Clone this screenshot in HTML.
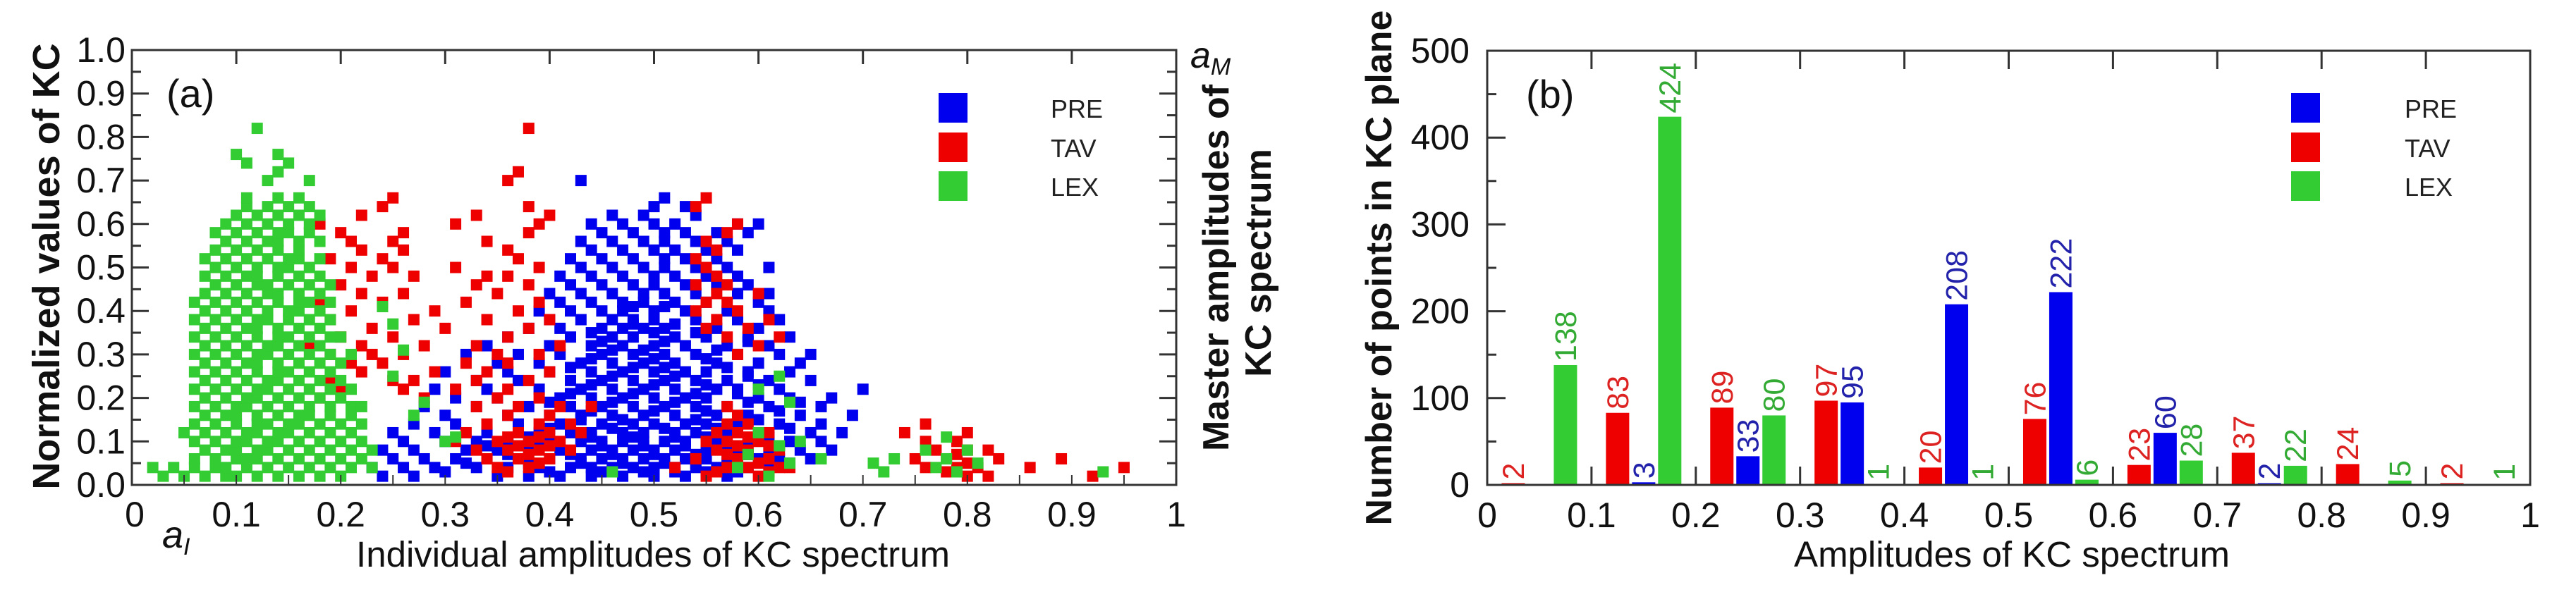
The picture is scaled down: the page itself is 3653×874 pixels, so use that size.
<!DOCTYPE html>
<html><head><meta charset="utf-8"><style>
html,body{margin:0;padding:0;background:#fff;}
svg{display:block;font-family:"Liberation Sans",Arial,sans-serif;}
</style></head><body>
<svg id="fig" width="3653" height="874" viewBox="0 0 3653 874" xmlns="http://www.w3.org/2000/svg">
<rect width="3653" height="874" fill="#fff"/>
<g id="pa"></g>
<g id="pb"></g>
</svg>
<script>
// ---------- Panel (a) scatter data: rows of [y, [x values]] ----------
const preRows = [
[0.02,[.24,.27,.35,.38,.41,.44,.47,.50,.53,.57]],
[0.03,[.30,.40,.45,.49,.52,.55,.58]],
[0.04,[.23,.26,.29,.33,.36,.39,.42,.44,.46,.48,.50,.52,.54,.56,.59,.61]],
[0.05,[.32,.38,.43,.47,.51,.54,.57,.63]],
[0.06,[.25,.28,.31,.34,.37,.40,.43,.45,.47,.49,.51,.53,.55,.57,.60,.62,.65]],
[0.07,[.36,.42,.46,.50,.54,.59]],
[0.08,[.24,.27,.32,.35,.38,.41,.44,.46,.48,.50,.52,.55,.58,.61,.64,.67]],
[0.09,[.34,.39,.45,.49,.53,.57,.62]],
[0.10,[.26,.30,.33,.36,.40,.43,.45,.47,.49,.51,.53,.56,.59,.63,.66]],
[0.11,[.38,.44,.48,.52,.55,.61]],
[0.12,[.25,.29,.34,.39,.42,.44,.47,.49,.52,.54,.57,.60,.65,.68]],
[0.13,[.40,.46,.51,.56,.63]],
[0.14,[.27,.31,.37,.41,.45,.48,.50,.53,.55,.58,.62,.66]],
[0.15,[.43,.47,.54,.60]],
[0.16,[.30,.36,.40,.43,.46,.49,.52,.56,.59,.64,.69]],
[0.17,[.44,.50,.55,.62]],
[0.18,[.28,.33,.38,.42,.45,.48,.51,.54,.57,.61,.66]],
[0.19,[.40,.46,.52,.59,.64]],
[0.20,[.31,.35,.41,.44,.47,.50,.53,.55,.60,.63,.67]],
[0.21,[.42,.48,.54,.58]],
[0.22,[.29,.34,.39,.43,.46,.49,.52,.56,.58,.62,.70]],
[0.23,[.44,.50,.55,.60]],
[0.24,[.33,.37,.42,.45,.48,.51,.54,.57,.61,.65]],
[0.25,[.46,.52,.59]],
[0.26,[.30,.36,.40,.44,.47,.50,.53,.55,.59,.63]],
[0.27,[.42,.48,.51,.57]],
[0.28,[.35,.39,.43,.46,.49,.52,.56,.60,.64]],
[0.29,[.44,.50,.55]],
[0.30,[.32,.37,.41,.45,.48,.51,.54,.58,.62,.65]],
[0.31,[.46,.49,.56]],
[0.32,[.34,.40,.44,.47,.50,.53,.57,.61]],
[0.33,[.45,.51,.59]],
[0.34,[.36,.42,.46,.48,.52,.55,.59,.63]],
[0.35,[.44,.50,.54]],
[0.36,[.38,.41,.45,.47,.49,.51,.56,.60]],
[0.37,[.48,.52]],
[0.38,[.40,.43,.46,.48,.50,.54,.58,.62]],
[0.40,[.39,.42,.45,.47,.50,.53,.57,.61]],
[0.41,[.48,.51]],
[0.42,[.41,.44,.47,.49,.52,.55,.60]],
[0.44,[.40,.43,.46,.49,.51,.54,.58,.61]],
[0.46,[.42,.45,.48,.50,.53,.56,.59]],
[0.48,[.41,.44,.47,.50,.52,.55,.58]],
[0.50,[.43,.46,.49,.51,.54,.57,.61]],
[0.52,[.42,.45,.48,.51,.53,.56]],
[0.54,[.44,.47,.50,.52,.55,.58]],
[0.56,[.43,.46,.49,.51,.54,.57]],
[0.58,[.45,.48,.51,.53,.56,.59]],
[0.60,[.44,.47,.50,.52,.58,.60]],
[0.62,[.46,.49,.54]],
[0.64,[.50,.53]],
[0.66,[.51]],
[0.70,[.43]]
];
const tavRows = [
[0.02,[.55,.60,.80,.82,.92]],
[0.03,[.36,.56,.61,.78]],
[0.04,[.35,.38,.52,.57,.59,.62,.63,.76,.79,.81,.86,.95]],
[0.05,[.39,.58,.60,.80]],
[0.06,[.34,.37,.40,.54,.58,.61,.75,.78,.83,.89]],
[0.07,[.38,.57,.59,.79]],
[0.08,[.33,.36,.39,.42,.56,.59,.62,.77,.80,.82]],
[0.09,[.37,.40,.58,.61]],
[0.10,[.31,.35,.38,.41,.55,.57,.60,.76,.79]],
[0.11,[.36,.39,.59]],
[0.12,[.32,.37,.40,.43,.56,.58,.61,.74,.80]],
[0.14,[.34,.39,.42,.57,.59,.76]],
[0.16,[.36,.40,.58]],
[0.18,[.33,.37,.41,.44,.57]],
[0.20,[.18,.28,.35,.39]],
[0.22,[.20,.26,.31,.36]],
[0.24,[.19,.25,.27,.33,.38]],
[0.26,[.22,.29,.34,.40]],
[0.28,[.21,.24,.32,.36]],
[0.30,[.19,.23,.26,.35,.39,.58]],
[0.32,[.17,.22,.28,.33,.41,.60]],
[0.34,[.20,.25,.36,.57,.62]],
[0.36,[.23,.30,.38,.55,.59]],
[0.38,[.19,.27,.34,.40,.56,.61]],
[0.40,[.21,.29,.37,.54,.58]],
[0.42,[.18,.24,.32,.39,.55,.57]],
[0.44,[.22,.26,.35,.56,.60]],
[0.46,[.20,.33,.38,.54,.57]],
[0.48,[.23,.27,.34,.36,.56]],
[0.50,[.21,.25,.31,.39,.55]],
[0.52,[.19,.24,.37,.54]],
[0.54,[.22,.26,.36,.56]],
[0.56,[.21,.25,.34,.55]],
[0.58,[.20,.26,.38,.57]],
[0.60,[.18,.31,.39,.58]],
[0.62,[.22,.33,.40]],
[0.64,[.24,.38,.54]],
[0.66,[.25,.55]],
[0.70,[.36]],
[0.72,[.37]],
[0.82,[.38]]
];
const lexRows = [
[0.02,[.03,.05,.07,.09,.10,.12,.14,.16,.18,.20]],
[0.04,[.02,.04,.06,.08,.09,.11,.13,.15,.17,.19,.21,.23]],
[0.06,[.06,.08,.10,.11,.12,.14,.16,.18,.20,.22]],
[0.08,[.07,.09,.10,.12,.13,.15,.17,.19,.21,.23]],
[0.10,[.06,.08,.10,.11,.13,.14,.16,.18,.20,.22]],
[0.12,[.05,.07,.09,.11,.12,.14,.15,.17,.19,.21]],
[0.14,[.06,.08,.10,.12,.13,.15,.16,.18,.20,.22]],
[0.16,[.07,.09,.10,.12,.14,.16,.17,.19,.21]],
[0.18,[.06,.08,.10,.11,.13,.15,.17,.19,.21,.22]],
[0.20,[.07,.09,.11,.12,.14,.16,.18,.20]],
[0.22,[.06,.08,.10,.12,.13,.15,.17,.19,.21]],
[0.24,[.07,.09,.11,.13,.14,.16,.18,.20]],
[0.26,[.06,.08,.10,.12,.14,.15,.17,.19]],
[0.28,[.07,.09,.11,.12,.14,.16,.18,.20]],
[0.30,[.06,.08,.10,.12,.13,.15,.17,.19,.21]],
[0.32,[.07,.09,.11,.13,.14,.16,.18]],
[0.34,[.06,.08,.10,.12,.14,.15,.17,.19,.20]],
[0.36,[.07,.09,.11,.12,.14,.16,.18]],
[0.38,[.06,.08,.10,.12,.13,.15,.17,.19]],
[0.40,[.07,.09,.11,.13,.15,.16,.18]],
[0.42,[.06,.08,.10,.12,.14,.16,.17,.19]],
[0.44,[.07,.09,.11,.13,.14,.16,.18]],
[0.46,[.08,.10,.12,.13,.15,.17,.19]],
[0.48,[.07,.09,.11,.12,.14,.16,.18]],
[0.50,[.08,.10,.12,.14,.15,.17]],
[0.52,[.07,.09,.11,.13,.15,.16,.18]],
[0.54,[.08,.10,.12,.14,.16]],
[0.56,[.09,.11,.13,.14,.16,.18]],
[0.58,[.08,.10,.12,.14,.15,.17]],
[0.60,[.09,.11,.13,.15,.17]],
[0.62,[.10,.12,.14,.16,.18]],
[0.64,[.11,.13,.15,.17]],
[0.66,[.11,.14,.16]],
[0.70,[.13,.17]],
[0.72,[.14]],
[0.74,[.11,.15]],
[0.76,[.10,.14]],
[0.82,[.12]]
];
const lexExtraX = [.25,.26,.24,.25,.28,.27,.30,.31,.46,.60,.62,.63,.58,.59,.61,.62,.64,.66,.63,.60,.71,.72,.73,.76,.78,.78,.79,.80,.77,.81,.93];
const lexExtraY = [.25,.31,.41,.37,.19,.16,.10,.11,.03,.22,.25,.19,.04,.07,.02,.09,.10,.06,.05,.12,.05,.03,.06,.08,.11,.06,.03,.08,.04,.05,.03];
const scatterXTicks = ["0","0.1","0.2","0.3","0.4","0.5","0.6","0.7","0.8","0.9","1"];
const scatterYTicks = ["0.0","0.1","0.2","0.3","0.4","0.5","0.6","0.7","0.8","0.9","1.0"];

// ---------- Panel (b) bar data ----------
const binStarts = [0,0.1,0.2,0.3,0.4,0.5,0.6,0.7,0.8,0.9];
const tavCounts = [2,83,89,97,20,76,23,37,24,2];
const preCounts = [0,3,33,95,208,222,60,2,0,0];
const lexCounts = [138,424,80,1,1,6,28,22,5,1];
const barXTicks = ["0","0.1","0.2","0.3","0.4","0.5","0.6","0.7","0.8","0.9","1"];
const barYTicks = [0,100,200,300,400,500];

const NS="http://www.w3.org/2000/svg";
function mk(parent,tag,attrs,text){const e=document.createElementNS(NS,tag);for(const k in attrs)e.setAttribute(k,attrs[k]);if(text!==undefined)e.textContent=text;parent.appendChild(e);return e;}
const BLUE="#0000ee",RED="#ee0000",GREEN="#33cc33",AX="#333";

// ===== Panel A =====
const A={x0:187,x1:1668,y0:688,y1:71};
const ax=v=>A.x0+v*(A.x1-A.x0), ay=v=>A.y0-v*(A.y0-A.y1);
const pa=document.getElementById('pa');
const ms=16;
function drawRows(rows,color,name){
  const g=mk(pa,'g',{});
  
  
  rows.forEach(r=>{r[1].forEach(x=>{
    const p=mk(g,'rect',{x:ax(x)-ms/2,y:ay(r[0])-ms/2,width:ms,height:ms,fill:color});
    
    
  });});
  return g;
}
drawRows(preRows,BLUE,'pre-series');
drawRows(tavRows,RED,'tav-series');
const gl=drawRows(lexRows,GREEN,'lex-series');
lexExtraX.forEach((x,i)=>{
  const p=mk(gl,'rect',{x:ax(x)-ms/2,y:ay(lexExtraY[i])-ms/2,width:ms,height:ms,fill:GREEN});
  
  
});
const fa=mk(pa,'rect',{x:A.x0,y:A.y1,width:A.x1-A.x0,height:A.y0-A.y1,fill:'none',stroke:AX,'stroke-width':3});


for(let i=0;i<=20;i++){
  const v=i/20, maj=i%2===0;
  const y=ay(v);
  mk(pa,'line',{x1:A.x0,y1:y,x2:A.x0+(maj?24:13),y2:y,stroke:AX,'stroke-width':3});
  mk(pa,'line',{x1:A.x1,y1:y,x2:A.x1-(maj?24:13),y2:y,stroke:AX,'stroke-width':3});
  const x=ax(v);
  mk(pa,'line',{x1:x,y1:A.y0,x2:x,y2:A.y0-14,stroke:AX,'stroke-width':2});
  if(maj) mk(pa,'line',{x1:x,y1:A.y1,x2:x,y2:A.y1+20,stroke:AX,'stroke-width':3});
}
scatterYTicks.forEach((t,i)=>{
  const e=mk(pa,'text',{x:178,y:ay(i/10)+17,'font-size':50,'text-anchor':'end',fill:'#111'},t);
  
  
});
scatterXTicks.forEach((t,i)=>{
  const e=mk(pa,'text',{x:ax(i/10)+(i===0?4:0),y:747,'font-size':50,'text-anchor':'middle',fill:'#111'},t);
  
  
});

// ===== Panel B =====
const B={x0:2109,x1:3588,y0:688,y1:72};
const bx=v=>B.x0+v*(B.x1-B.x0), by=v=>B.y0-v/500*(B.y0-B.y1);
const pb=document.getElementById('pb');
const bw=33;
const series=[[tavCounts,0.025,RED,'#dd2222','tav'],[preCounts,0.05,BLUE,'#2222aa','pre'],[lexCounts,0.075,GREEN,'#33aa33','lex']];
series.forEach(s=>{
  binStarts.forEach((b,i)=>{
    const v=s[0][i]; if(v<=0) return;
    const cx=bx(b+s[1]);
    const r=mk(pb,'rect',{x:cx-bw/2,y:by(v),width:bw,height:B.y0-by(v),fill:s[2]});
    
    
    const ty=by(v)-5;
    const t=mk(pb,'text',{x:cx+15,y:ty,'font-size':43,fill:s[3],transform:'rotate(-90 '+(cx+15)+' '+ty+')'},String(v));
    
    
  });
});
const fb=mk(pb,'rect',{x:B.x0,y:B.y1,width:B.x1-B.x0,height:B.y0-B.y1,fill:'none',stroke:AX,'stroke-width':3});


for(let i=0;i<=10;i++){
  const y=by(i*50), maj=i%2===0;
  mk(pb,'line',{x1:B.x0,y1:y,x2:B.x0+(maj?26:13),y2:y,stroke:AX,'stroke-width':3});
  const x=bx(i/10);
  mk(pb,'line',{x1:x,y1:B.y0,x2:x,y2:B.y0-26,stroke:AX,'stroke-width':3});
  mk(pb,'line',{x1:x,y1:B.y1,x2:x,y2:B.y1+26,stroke:AX,'stroke-width':3});
}
barYTicks.forEach(t=>{
  const e=mk(pb,'text',{x:2084,y:by(t)+17,'font-size':50,'text-anchor':'end',fill:'#111'},String(t));
  
  
});
barXTicks.forEach((t,i)=>{
  const e=mk(pb,'text',{x:bx(i/10),y:748,'font-size':50,'text-anchor':'middle',fill:'#111'},t);
  
  
});

function legend(parent,sx,tx,name){
  const g=mk(parent,'g',{});
  
  
  [['PRE',BLUE,132],['TAV',RED,188],['LEX',GREEN,243]].forEach(l=>{
    const r=mk(g,'rect',{x:sx,y:l[2],width:41,height:42,fill:l[1]});
    
    
    const t=mk(g,'text',{x:tx,y:l[2]+35,'font-size':36,fill:'#222'},l[0]);
    
    
  });
}
legend(pa,1331,1490,'legend-a');
legend(pb,3249,3410,'legend-b');
</script>
<svg style="position:absolute;left:0;top:0" width="3653" height="874" font-family="Liberation Sans, Arial, sans-serif">
<text x="236" y="152" font-size="56" fill="#111">(a)</text>
<text x="2164" y="153" font-size="56" fill="#111">(b)</text>
<text x="0" y="0" font-size="54" font-weight="bold" fill="#111" text-anchor="middle" transform="translate(84,378) rotate(-90)">Normalized values of KC</text>
<text font-size="52" font-weight="bold" fill="#111" text-anchor="middle" transform="translate(1742,380) rotate(-90)">Master amplitudes of</text>
<text font-size="52" font-weight="bold" fill="#111" text-anchor="middle" transform="translate(1802,373) rotate(-90)">KC spectrum</text>
<text x="1688" y="96" font-size="52" font-style="italic" fill="#111">a<tspan font-size="34" dy="10">M</tspan></text>
<text x="230" y="777" font-size="54" font-style="italic" fill="#111">a<tspan font-size="34" dy="10">I</tspan></text>
<text x="926" y="804" font-size="51" fill="#111" text-anchor="middle">Individual amplitudes of KC spectrum</text>
<text font-size="52" font-weight="bold" fill="#111" text-anchor="middle" transform="translate(1973,380) rotate(-90)">Number of points in KC plane</text>
<text x="2853" y="804" font-size="51" fill="#111" text-anchor="middle">Amplitudes of KC spectrum</text>
</svg>
</body></html>
